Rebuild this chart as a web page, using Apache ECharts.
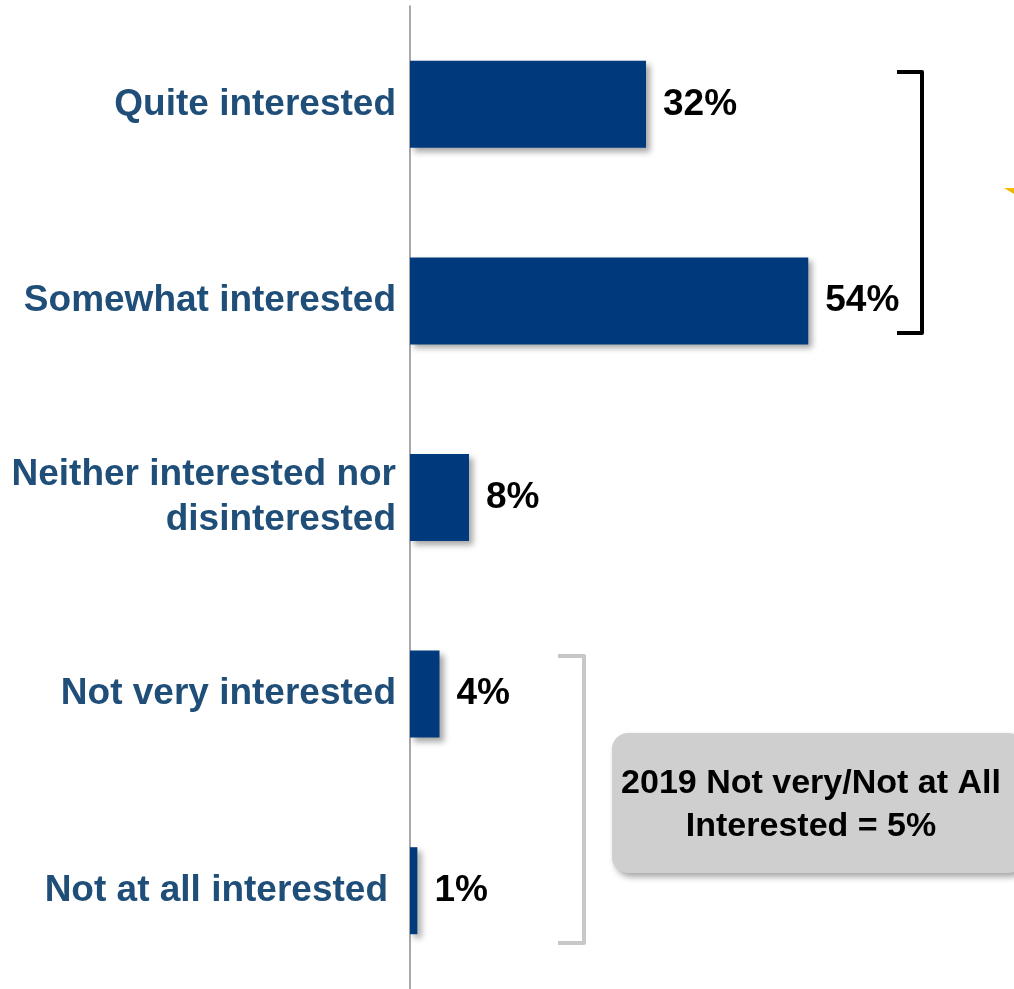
<!DOCTYPE html>
<html>
<head>
<meta charset="utf-8">
<style>
  html, body { margin: 0; padding: 0; background: #ffffff; }
  #chart { width: 1014px; height: 989px; }
</style>
<script src="https://cdn.jsdelivr.net/npm/echarts@6/dist/echarts.min.js"></script>
</head>
<body>
<div id="chart"></div>
<script>
// Interest levels and share of respondents (%)
const categories = [
  'Quite interested',
  'Somewhat interested',
  'Neither interested nor\ndisinterested',
  'Not very interested',
  'Not at all interested'
];
const shares = [32, 54, 8, 4, 1];
const noteLines = ['2019 Not very/Not at All', 'Interested = 5%'];

const FONT = '"Liberation Sans", Arial, sans-serif';
const LABEL_COLOR = '#1F4E79';
const chart = echarts.init(document.getElementById('chart'), null, { renderer: 'canvas' });

chart.setOption({
  animation: false,
  backgroundColor: '#ffffff',
  grid: { left: 410, top: 6, width: 590, height: 986, containLabel: false },
  xAxis: {
    type: 'value', min: 0, max: 80,
    show: false
  },
  yAxis: {
    type: 'category',
    data: categories,
    inverse: true,
    axisLine: { show: true, lineStyle: { color: '#8c8c8c', width: 1.5 } },
    axisTick: { show: false },
    splitLine: { show: false },
    axisLabel: {
      margin: 14,
      color: LABEL_COLOR,
      fontFamily: FONT,
      fontWeight: 'bold',
      fontSize: 37,
      lineHeight: 45,
      align: 'right',
      // the last label sits a little further from the axis
      formatter: (v, i) => i === categories.length - 1 ? '{far|' + v + '}' : v,
      rich: {
        far: {
          color: LABEL_COLOR,
          fontFamily: FONT,
          fontWeight: 'bold',
          fontSize: 37,
          padding: [0, 8, 0, 0]
        }
      }
    }
  },
  series: [{
    type: 'bar',
    data: shares,
    barWidth: 87,
    itemStyle: {
      color: '#003A7D',
      shadowColor: 'rgba(0,0,0,0.35)',
      shadowBlur: 6,
      shadowOffsetX: 4,
      shadowOffsetY: 4
    },
    label: {
      show: true,
      position: 'right',
      distance: 17,
      formatter: '{c}%',
      color: '#000000',
      fontFamily: FONT,
      fontWeight: 'bold',
      fontSize: 37
    }
  }],
  graphic: [
    // bracket grouping the two "interested" rows
    {
      type: 'polyline',
      shape: { points: [[897, 72], [922, 72], [922, 333], [897, 333]] },
      style: { stroke: '#000000', lineWidth: 4, fill: null, lineJoin: 'round' }
    },
    // bracket grouping the two "not interested" rows
    {
      type: 'polyline',
      shape: { points: [[558, 656], [584, 656], [584, 943], [558, 943]] },
      style: { stroke: '#c8c8c8', lineWidth: 4, fill: null, lineJoin: 'round' }
    },
    // comparison callout
    {
      type: 'rect',
      shape: { x: 612, y: 733, width: 412, height: 140, r: 16 },
      style: {
        fill: '#cfcfcf',
        shadowColor: 'rgba(0,0,0,0.35)',
        shadowBlur: 6,
        shadowOffsetX: 3,
        shadowOffsetY: 4
      }
    },
    {
      type: 'text',
      x: 811, y: 805,
      style: {
        text: noteLines.join('\n'),
        fill: '#000000',
        font: 'bold 34px ' + FONT,
        lineHeight: 43,
        align: 'center',
        verticalAlign: 'middle'
      }
    },
    // arrow tip entering from the right edge
    {
      type: 'polygon',
      shape: { points: [[1004, 188], [1014, 188], [1014, 194]] },
      style: { fill: '#F5B800' }
    }
  ]
});
</script>
</body>
</html>
